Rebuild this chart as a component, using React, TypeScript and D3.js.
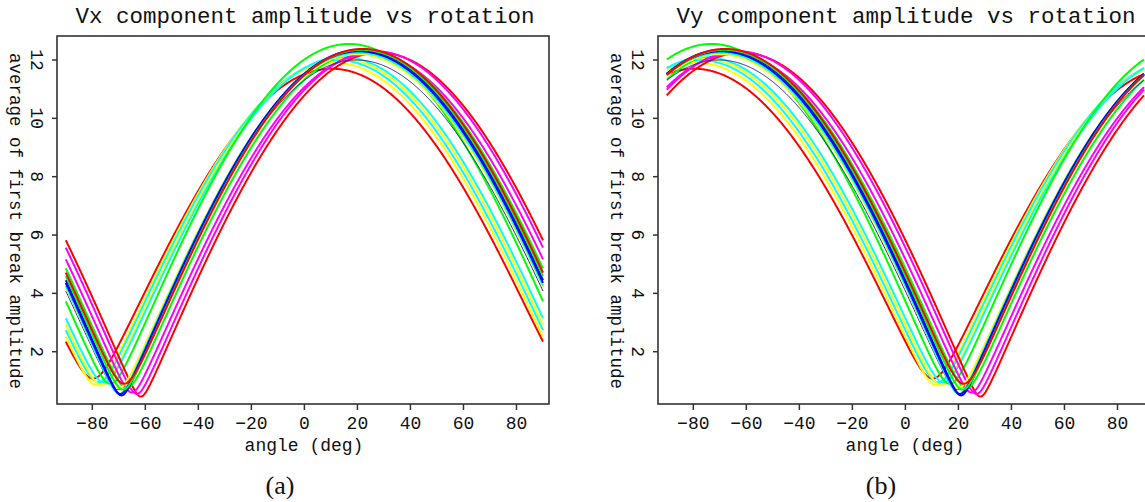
import React from 'react';
import * as d3 from 'd3';

// Per-curve parameters (Vx panel): peak angle (deg), peak amplitude, floor amplitude
const curveColors = ['#ff0000', '#ff00ff', '#ff00ff', '#00ff00', '#ff0000', '#00ff00', '#0000ff', '#0000ff', '#00ffff', '#ffff00', '#22228a', '#00ff00', '#00ffff', '#ffff00', '#00ffff', '#ffff00', '#ff0000'];
const peakAngle = [28.3, 26.8, 24.9, 23.0, 22.0, 21.6, 21.0, 20.6, 20.2, 19.9, 19.6, 16.8, 14.4, 13.5, 12.4, 11.5, 10.3];
const peakAmplitude = [12.25, 12.3, 12.2, 12.3, 12.38, 12.35, 12.35, 12.3, 12.25, 12.2, 12.0, 12.55, 12.1, 12.05, 12.0, 11.9, 11.7];
const floorAmplitude = [0.46, 0.55, 0.6, 0.75, 0.9, 0.7, 0.5, 0.55, 0.55, 0.75, 0.7, 0.9, 0.95, 0.85, 0.95, 0.85, 1.08];
const drawOrder = [16, 15, 14, 13, 12, 11, 0, 1, 2, 3, 10, 9, 8, 7, 6, 5, 4];
const thinCurves = [10];

const xTicks = [-80, -60, -40, -20, 0, 20, 40, 60, 80];
const yTicks = [2, 4, 6, 8, 10, 12];
const panelTitles = ['Vx component amplitude vs rotation', 'Vy component amplitude vs rotation'];
const panelCaptions = ['(a)', '(b)'];
const panelShift = [0, 90]; // Vy(θ) = Vx(θ + 90)

const MONO = '"Liberation Mono", "DejaVu Sans Mono", monospace';

function amplitude(theta: number, i: number) {
  const P = peakAmplitude[i];
  const B = floorAmplitude[i];
  const c = Math.cos(((theta - peakAngle[i]) * Math.PI) / 180);
  return Math.sqrt((P * P - B * B) * c * c + B * B);
}

function Panel({ idx, ox }: { idx: number; ox: number }) {
  const x = d3.scaleLinear().domain([-90, 90]).range([ox + 65.8, ox + 543]);
  const y = d3.scaleLinear().domain([2, 12]).range([351.7, 60]);
  const frame = { left: ox + 57, right: ox + 549, top: 36, bottom: 404 };
  const thetas = d3.range(-90, 90.001, 0.25);
  const line = d3
    .line<number>()
    .x((t) => x(t))
    .curve(d3.curveLinear);
  const clipId = `clip${idx}`;
  return (
    <g>
      <defs>
        <clipPath id={clipId}>
          <rect x={frame.left} y={frame.top} width={frame.right - frame.left} height={frame.bottom - frame.top} />
        </clipPath>
      </defs>
      <g clipPath={`url(#${clipId})`}>
        {drawOrder.map((i) => {
          const l = line.y((t) => y(amplitude(t + panelShift[idx], i)));
          return (
            <path
              key={i}
              d={l(thetas) || ''}
              fill="none"
              stroke={curveColors[i]}
              strokeWidth={thinCurves.includes(i) ? 1 : 2}
              strokeLinejoin="round"
            />
          );
        })}
      </g>
      <rect
        x={frame.left}
        y={frame.top}
        width={frame.right - frame.left}
        height={frame.bottom - frame.top}
        fill="none"
        stroke="#333"
        strokeWidth={1.6}
      />
      {xTicks.map((t) => (
        <g key={'x' + t}>
          <line x1={x(t)} x2={x(t)} y1={frame.bottom} y2={frame.bottom + 6} stroke="#333" strokeWidth={1.5} />
          <text x={x(t)} y={429} textAnchor="middle" fontFamily={MONO} fontSize={18} fill="#111">
            {t < 0 ? '\u2212' + Math.abs(t) : String(t)}
          </text>
        </g>
      ))}
      {yTicks.map((t) => (
        <g key={'y' + t}>
          <line x1={frame.left - 5} x2={frame.left} y1={y(t)} y2={y(t)} stroke="#333" strokeWidth={1.5} />
          <text
            transform={`translate(${ox + 31},${y(t)}) rotate(90)`}
            textAnchor="middle"
            fontFamily={MONO}
            fontSize={18}
            fill="#111"
          >
            {t}
          </text>
        </g>
      ))}
      <text
        transform={`translate(${ox + 10},221) rotate(90)`}
        textAnchor="middle"
        fontFamily={MONO}
        fontSize={17.5}
        fill="#111"
      >
        average of first break amplitude
      </text>
      <text x={ox + 304} y={451} textAnchor="middle" fontFamily={MONO} fontSize={18} fill="#111">
        angle (deg)
      </text>
      <text x={ox + 305} y={23} textAnchor="middle" fontFamily={MONO} fontSize={22.5} fill="#111">
        {panelTitles[idx]}
      </text>
      <text x={ox + 280} y={494} textAnchor="middle" fontFamily='"Liberation Serif", "DejaVu Serif", serif' fontSize={26} fill="#111">
        {panelCaptions[idx]}
      </text>
    </g>
  );
}

export default function App() {
  return (
    <svg
      width={1145}
      height={502}
      style={{ position: 'absolute', left: 0, top: 0, background: '#fff' }}
    >
      <rect x={0} y={0} width={1145} height={502} fill="#fff" />
      <Panel idx={0} ox={0} />
      <Panel idx={1} ox={601} />
    </svg>
  );
}
